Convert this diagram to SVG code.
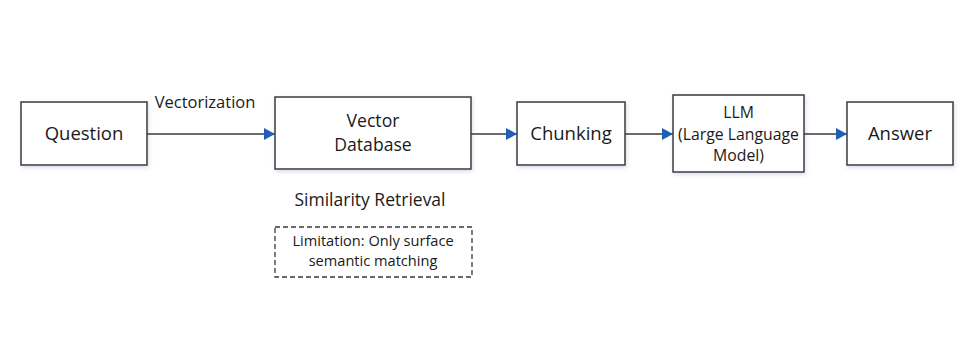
<svg xmlns="http://www.w3.org/2000/svg" width="969" height="364" viewBox="0 0 969 364">
<defs>
<marker id="ah" markerWidth="11" markerHeight="12" refX="11" refY="6" orient="auto" markerUnits="userSpaceOnUse">
<path d="M0,0 L11,6 L0,12 Z" fill="#1f5fb8"/>
</marker>
<filter id="sh" x="-10%" y="-10%" width="130%" height="140%">
<feDropShadow dx="1" dy="2" stdDeviation="2" flood-color="#8aa0c8" flood-opacity="0.35"/>
</filter>
</defs>
<style>
.box{fill:#fff;stroke:#3a3a3a;stroke-width:1.5;filter:url(#sh)}
.t{font-family:"Open Sans","Noto Sans",sans-serif;fill:#1a1a1a;text-anchor:middle}
.big{font-size:18.5px}
.two{font-size:17.6px}
.mid{font-size:15.8px}
.lab{font-size:16.5px}
.sim{font-size:17.5px}
.lim{font-size:14.6px}
.edge{stroke:#3a3a3a;stroke-width:1.3;fill:none;marker-end:url(#ah)}
</style>
<rect width="969" height="364" fill="#fff"/>
<g id="question">
<rect class="box" x="21" y="102" width="126" height="63"/>
<text class="t big" x="84" y="140">Question</text>
</g>
<g id="vectordb">
<rect class="box" x="275" y="97" width="196" height="72"/>
<text class="t two" x="373" y="127">Vector</text>
<text class="t two" x="373" y="151">Database</text>
</g>
<g id="chunking">
<rect class="box" x="517" y="102" width="108" height="63"/>
<text class="t big" x="571" y="140">Chunking</text>
</g>
<g id="llm">
<rect class="box" x="673" y="95" width="131" height="77"/>
<text class="t mid" x="738.5" y="118">LLM</text>
<text class="t mid" x="738.5" y="139.5">(Large Language</text>
<text class="t mid" x="738.5" y="161">Model)</text>
</g>
<g id="answer">
<rect class="box" x="847" y="102" width="106" height="63"/>
<text class="t big" x="900" y="140">Answer</text>
</g>
<g id="labels">
<text class="t lab" x="205" y="108">Vectorization</text>
<text class="t sim" x="370" y="206">Similarity Retrieval</text>
</g>
<g id="limitation">
<rect x="275" y="227" width="197" height="50" fill="none" stroke="#3a3a3a" stroke-width="1.3" stroke-dasharray="5,3"/>
<text class="t lim" x="373" y="246">Limitation: Only surface</text>
<text class="t lim" x="373" y="266">semantic matching</text>
</g>
<g id="connectors">
<line class="edge" x1="147" y1="134" x2="275" y2="134"/>
<line class="edge" x1="471" y1="134" x2="517" y2="134"/>
<line class="edge" x1="625" y1="134" x2="673" y2="134"/>
<line class="edge" x1="804" y1="134" x2="847" y2="134"/>
</g>
</svg>
